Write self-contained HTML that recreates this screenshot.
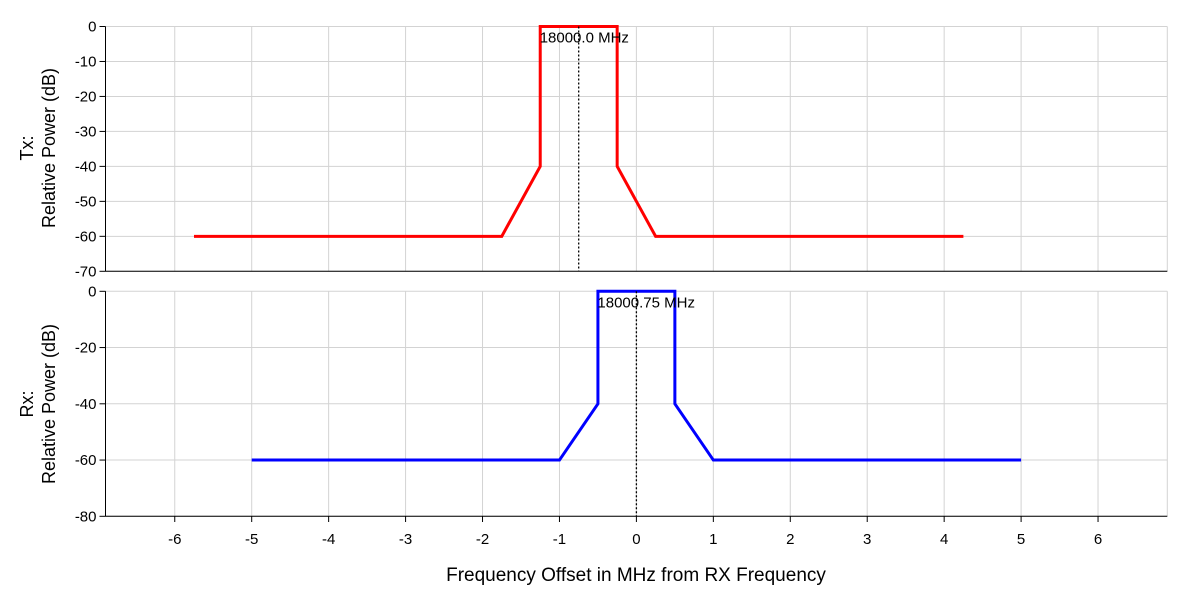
<!DOCTYPE html>
<html><head><meta charset="utf-8"><style>
body{margin:0;background:#fff;}
svg text{font-family:"Liberation Sans",sans-serif;fill:#000;}
</style></head><body>
<svg id="c" width="1183" height="594" xmlns="http://www.w3.org/2000/svg"></svg>
<script>
const xTicks=[-6,-5,-4,-3,-2,-1,0,1,2,3,4,5,6];
const txTicks=[0,-10,-20,-30,-40,-50,-60,-70];
const rxTicks=[0,-20,-40,-60,-80];
const txFreq=[-5.75,-1.75,-1.25,-1.25,-0.25,-0.25,0.25,4.25];
const txPower=[-60,-60,-40,0,0,-40,-60,-60];
const rxFreq=[-5,-1,-0.5,-0.5,0.5,0.5,1,5];
const rxPower=[-60,-60,-40,0,0,-40,-60,-60];
const txMarker=-0.75, txMarkerLabel="18000.0 MHz";
const rxMarker=0, rxMarkerLabel="18000.75 MHz";

const svg=document.getElementById('c');
const NS='http://www.w3.org/2000/svg';
function mk(t,a,p){const e=document.createElementNS(NS,t);for(const k in a)e.setAttribute(k,a[k]);(p||svg).appendChild(e);return e;}
const L=105.5,R=1167.3;
const X=v=>636.4+v*76.94;
const panels=[
 {name:'tx',top:26.5,bot:271.3,min:-70,max:0,ticks:txTicks,fx:txFreq,py:txPower,color:'#ff0000',m:txMarker,ml:txMarkerLabel,l1:'Tx:',cy:148},
 {name:'rx',top:291.3,bot:516.3,min:-80,max:0,ticks:rxTicks,fx:rxFreq,py:rxPower,color:'#0000ff',m:rxMarker,ml:rxMarkerLabel,l1:'Rx:',cy:404}
];
panels.forEach(p=>{
 const Y=v=>p.bot-(v-p.min)/(p.max-p.min)*(p.bot-p.top);
 const g=mk('g',{});
 
 
 xTicks.forEach(t=>{const l=mk('line',{x1:X(t),x2:X(t),y1:p.top,y2:p.bot,stroke:'#d3d3d3','stroke-width':1},g);
  });
 mk('line',{x1:R,x2:R,y1:p.top,y2:p.bot,stroke:'#d3d3d3'},g);
 p.ticks.forEach(t=>{
  const l=mk('line',{x1:L,x2:R,y1:Y(t),y2:Y(t),stroke:'#d3d3d3'},g);
  
  mk('line',{x1:L-6,x2:L,y1:Y(t),y2:Y(t),stroke:'#000'},g);
  const tx=mk('text',{x:L-9,y:Y(t)+5,'text-anchor':'end','font-size':15},g);tx.textContent=t;
  
 });
 mk('line',{x1:L,x2:L,y1:p.top,y2:p.bot,stroke:'#000'},g);
 const pts=p.fx.map((f,i)=>X(f)+','+Y(p.py[i])).join(' ');
 const pl=mk('polyline',{points:pts,fill:'none',stroke:p.color,'stroke-width':3},g);
 
 const ml=mk('line',{x1:X(p.m),x2:X(p.m),y1:p.top,y2:p.bot,stroke:'#000','stroke-dasharray':'2,2','stroke-width':1.3},g);
 
 const mt=mk('text',{x:X(p.m)-39,y:p.top+16,'font-size':15},g);mt.textContent=p.ml;
 
 const yt=mk('text',{transform:`translate(33,${p.cy}) rotate(-90)`,'text-anchor':'middle','font-size':18},g);
 
 const s1=mk('tspan',{x:0,dy:0},yt);s1.textContent=p.l1;
 const s2=mk('tspan',{x:0,dy:22},yt);s2.textContent='Relative Power (dB)';
});
mk('line',{x1:L,x2:R,y1:271.3,y2:271.3,stroke:'#000'});
mk('line',{x1:L,x2:R,y1:516.3,y2:516.3,stroke:'#000'});
xTicks.forEach(t=>{
 mk('line',{x1:X(t),x2:X(t),y1:516.3,y2:522,stroke:'#000'});
 const tx=mk('text',{x:X(t),y:544,'text-anchor':'middle','font-size':15});tx.textContent=t;
 
 
});
const xt=mk('text',{x:636,y:581,'text-anchor':'middle','font-size':19});
xt.textContent='Frequency Offset in MHz from RX Frequency';


</script>
</body></html>
